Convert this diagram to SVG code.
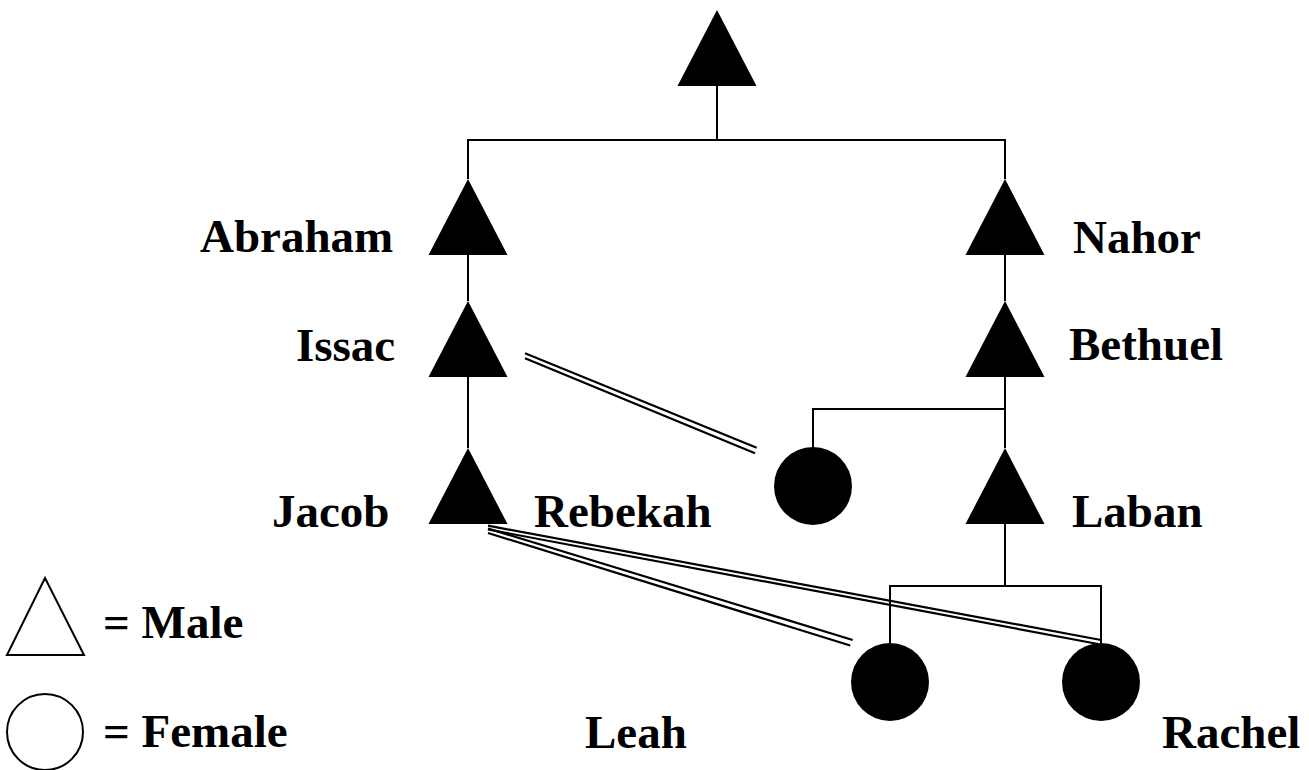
<svg xmlns="http://www.w3.org/2000/svg" width="1309" height="770" viewBox="0 0 1309 770">
<style>
.m{fill:#000;stroke:none}
.f{fill:#000;stroke:none}
.lg{fill:none;stroke:#000;stroke-width:2}
.c line,.c polyline{stroke:#000;stroke-width:2;fill:none}
.c .d{stroke-width:2.2}
text{font-family:"Liberation Serif","Times New Roman",serif;font-weight:bold;font-size:47px;fill:#000}
</style>
<rect width="1309" height="770" fill="#fff"/>
<g id="connectors" class="c">
<line x1="717" y1="86" x2="717" y2="140"/>
<polyline points="468,179 468,140 1005,140 1005,179"/>
<line x1="468" y1="255" x2="468" y2="301"/>
<line x1="468" y1="377" x2="468" y2="448"/>
<line x1="1005" y1="255" x2="1005" y2="301"/>
<line x1="1005" y1="377" x2="1005" y2="448"/>
<polyline points="1005,409 813,409 813,447"/>
<line x1="1005" y1="524" x2="1005" y2="586"/>
<polyline points="890,643 890,586 1101,586 1101,643"/>
<line class="d" x1="525" y1="353.3" x2="756.7" y2="447.7"/>
<line class="d" x1="525" y1="358.3" x2="755" y2="453.3"/>
<line class="d" x1="488" y1="525.7" x2="1101" y2="640"/>
<line class="d" x1="488" y1="529.5" x2="1098" y2="644"/>
<line class="d" x1="488" y1="528.5" x2="852.7" y2="640"/>
<line class="d" x1="488" y1="533" x2="850.2" y2="645.5"/>
</g>
<g id="root"><polygon class="m" points="717,10 756.5,86 677.5,86"/></g>
<g id="abraham"><polygon class="m" points="468,179 507.5,255 428.5,255"/><text x="200" y="252">Abraham</text></g>
<g id="issac"><polygon class="m" points="468,301 507.5,377 428.5,377"/><text x="296" y="361">Issac</text></g>
<g id="jacob"><polygon class="m" points="468,448 507.5,524 428.5,524"/><text x="272" y="527">Jacob</text></g>
<g id="nahor"><polygon class="m" points="1005,179 1044.5,255 965.5,255"/><text x="1073" y="253">Nahor</text></g>
<g id="bethuel"><polygon class="m" points="1005,301 1044.5,377 965.5,377"/><text x="1069" y="360">Bethuel</text></g>
<g id="laban"><polygon class="m" points="1005,448 1044.5,524 965.5,524"/><text x="1072" y="527">Laban</text></g>
<g id="rebekah"><circle class="f" cx="813" cy="486" r="39"/><text x="534" y="527">Rebekah</text></g>
<g id="leah"><circle class="f" cx="890" cy="682" r="39"/><text x="585" y="748">Leah</text></g>
<g id="rachel"><circle class="f" cx="1101" cy="682" r="39"/><text x="1162" y="748">Rachel</text></g>
<g id="legend">
<polygon class="lg" points="45,578 84,655 7,655"/>
<text x="103" y="638">= Male</text>
<circle class="lg" cx="45" cy="732" r="38"/>
<text x="103" y="747">= Female</text>
</g>
</svg>
